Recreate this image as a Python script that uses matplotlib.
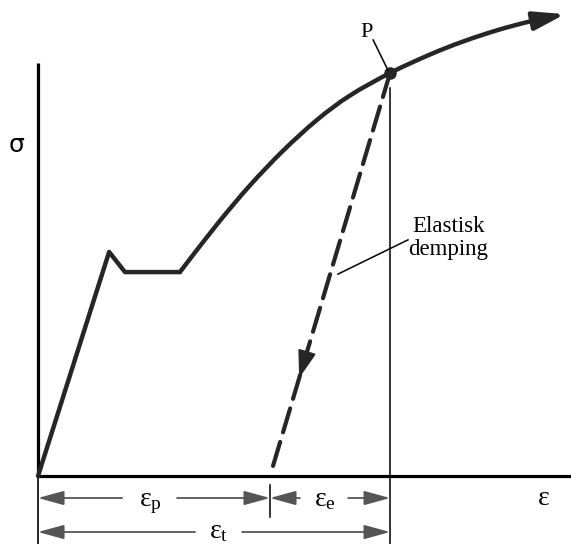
import numpy as np
import matplotlib.pyplot as plt
from matplotlib.path import Path
from matplotlib.patches import FancyArrowPatch

plt.rcParams['mathtext.fontset'] = 'custom'
plt.rcParams['mathtext.rm'] = 'Liberation Serif'
plt.rcParams['mathtext.it'] = 'Liberation Serif:italic'

# stress-strain curve (arbitrary units, eps_t = 10, sigma at P = 100)
# elastic part + yield plateau
yield_strain = [0, 2.02, 2.47, 4.03]
yield_stress = [0, 55.6, 50.6, 50.6]
# hardening part, from end of plateau through P to the arrow tip
hard_strain = [4.03, 5.09, 6.02, 6.96, 7.93, 8.86, 10.0, 11.14, 12.07, 13.04, 13.98, 14.97]
hard_stress = [50.6, 62.5, 72.1, 80.7, 88.4, 94.4, 100.0, 104.6, 107.8, 110.6, 112.8, 114.6]

P = (10.0, 100.0)          # point where unloading starts
eps_p = 6.59               # plastic strain left after unloading
eps_t = 10.0               # total strain at P
unload_end = 1.0           # dashed line stops just above the axis
unload_arrow = (30.8, 24.3)  # stress at base / tip of the arrow on the dashed line

x_max, y_max = 15.14, 102.5
ticks_bottom = -16.87

# dimension lines: (y, start, end, gap_left, gap_right, label, label_x, label_y)
dims = [
    (-5.46, 0.0, eps_p, 2.39, 3.95, r'$\mathrm{ε}_\mathrm{p}$', 3.18, -7.4),
    (-5.46, eps_p, eps_t, 7.44, 8.81, r'$\mathrm{ε}_\mathrm{e}$', 8.14, -7.4),
    (-13.9, 0.0, eps_t, 4.46, 5.80, r'$\mathrm{ε}_\mathrm{t}$', 5.14, -15.5),
]

fig = plt.figure(figsize=(5.71, 5.44), dpi=100)
ax = fig.add_axes([0, 0, 1, 1])
ax.set_xlim(-1.08, 15.14)
ax.set_ylim(ticks_bottom, 118.11)
ax.axis('off')

dark = '#262626'
grey = '#555555'

# axes
ax.plot([0, 0], [0, y_max], color='k', lw=2.3, solid_capstyle='butt')
ax.plot([0, x_max], [0, 0], color='k', lw=2.3, solid_capstyle='butt', clip_on=False)
ax.plot([0, 0], [0, ticks_bottom], color='k', lw=1.2)
ax.plot([eps_t, eps_t], [96.3, ticks_bottom], color='k', lw=1.1)
ax.plot([eps_p, eps_p], [-2.2, -10.2], color='k', lw=1.1)

# elastic part and plateau
ax.plot(yield_strain, yield_stress, color=dark, lw=3.2, solid_joinstyle='round',
        solid_capstyle='round')

# hardening curve drawn as a smooth bezier path through the read points
pts = np.column_stack([hard_strain, hard_stress])
tang = np.gradient(pts, axis=0)
verts = [pts[0]]
codes = [Path.MOVETO]
for i in range(len(pts) - 1):
    verts += [pts[i] + tang[i] / 3, pts[i + 1] - tang[i + 1] / 3, pts[i + 1]]
    codes += [Path.CURVE4] * 3
curve = FancyArrowPatch(path=Path(verts, codes),
                        arrowstyle='-|>,head_length=0.95,head_width=0.28',
                        mutation_scale=20, color=dark, lw=3.2, joinstyle='round',
                        capstyle='round')
ax.add_patch(curve)
ax.plot(*P, 'o', color=dark, ms=8)

# elastic unloading
def on_unload(s):
    return eps_p + (P[0] - eps_p) * s / P[1]

ax.plot([P[0], on_unload(unload_end)], [P[1], unload_end], color=dark, lw=3.0,
        linestyle=(0, (6.0, 2.4)), dash_capstyle='round')
ax.annotate('', xy=(on_unload(unload_arrow[1]), unload_arrow[1]),
            xytext=(on_unload(unload_arrow[0]), unload_arrow[0]),
            arrowprops=dict(arrowstyle='-|>,head_length=0.85,head_width=0.28',
                            mutation_scale=20, color=dark, lw=1.5,
                            shrinkA=0, shrinkB=0))

# dimension arrows
for y, a, b, ga, gb, lab, lx, ly in dims:
    for start, end in ((ga, a), (gb, b)):
        ax.annotate('', xy=(end, y), xytext=(start, y),
                    arrowprops=dict(arrowstyle='-|>,head_length=0.8,head_width=0.22',
                                    mutation_scale=20, color=grey, lw=1.3,
                                    shrinkA=0, shrinkB=0))
    ax.text(lx, ly, lab, fontsize=20, ha='center', va='baseline')

# labels
ax.text(14.37, -7.2, 'ε', fontsize=20, family='Liberation Serif', ha='center', va='baseline')
ax.text(-0.62, 82.1, 'σ', fontsize=18, family='DejaVu Sans', ha='center', va='center')
ax.text(9.32, 110.0, 'P', fontsize=16, family='Liberation Serif', ha='center', va='center')
ax.plot([9.52, 9.94], [108.2, 100.7], color='k', lw=1.1)
ax.text(11.65, 59.1, 'Elastisk\ndemping', fontsize=16.5, family='Liberation Serif',
        ha='center', va='center', linespacing=1.1)
ax.plot([8.52, 10.51], [50.1, 58.6], color='k', lw=1.1)

fig.savefig('out.png', dpi=100, facecolor='white')
